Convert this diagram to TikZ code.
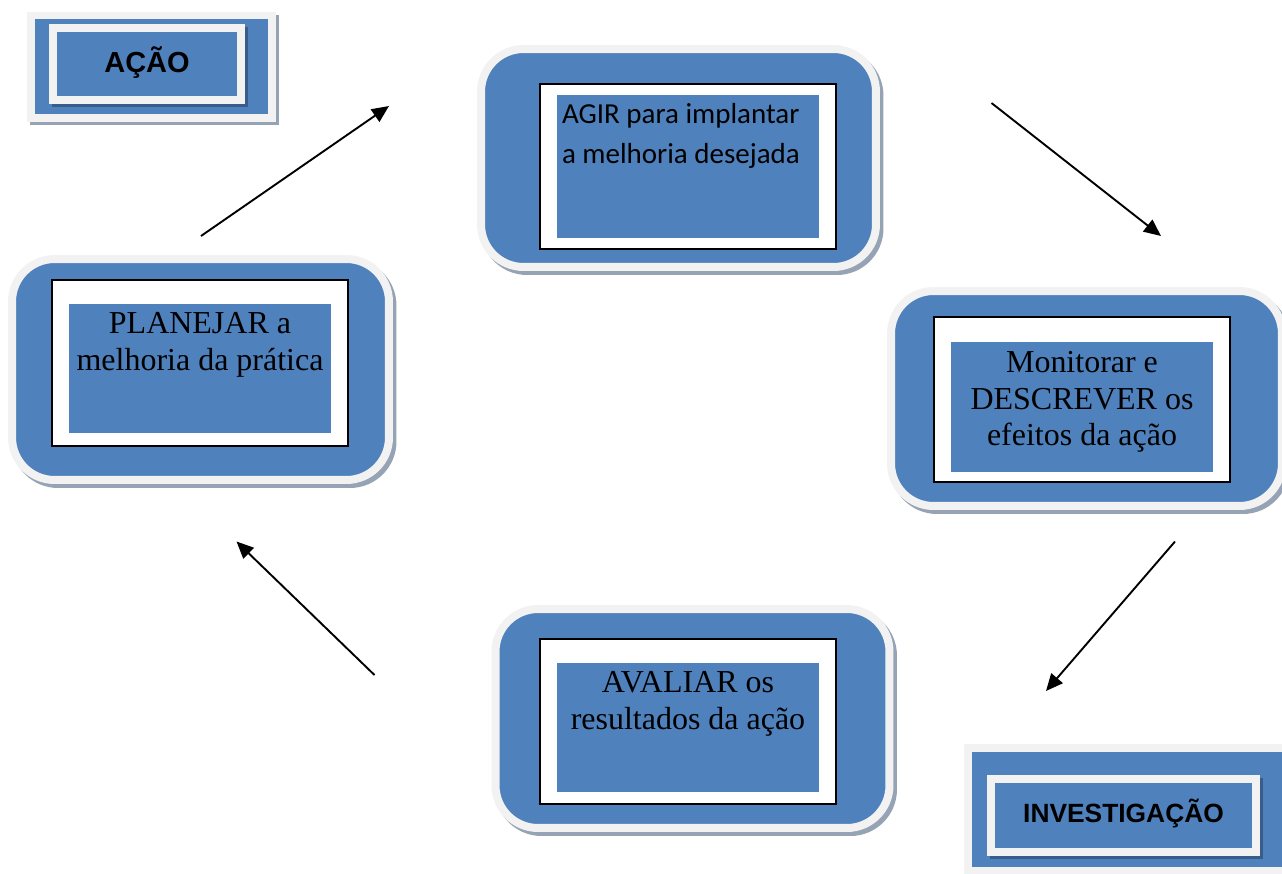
\documentclass[tikz,border=0pt]{standalone}
\usepackage{fontspec}
\setmainfont{Liberation Serif}
\newfontfamily\calibriFont{Carlito}
\newfontfamily\arialFont{Liberation Sans}
\definecolor{boxBlue}{HTML}{4F81BD}
\definecolor{frameGray}{HTML}{F2F2F2}
\definecolor{shadowGray}{HTML}{95A3B4}
\definecolor{shadowBlue}{HTML}{385D8A}
\usepackage{tikz}
\usetikzlibrary{calc, positioning, arrows.meta, shadows}
\begin{document}
\begin{tikzpicture}[x=0.02cm, y=-0.02cm,
    stageBox/.style={fill=boxBlue, draw=frameGray, line width=0.16cm, rounded corners=0.85cm, inner sep=0pt,
      drop shadow={shadow xshift=0.07cm, shadow yshift=-0.08cm, fill=shadowGray, draw=shadowGray, line width=0.16cm, opacity=1}},
    stageFrame/.style={fill=white, draw=black, line width=0.03cm, inner sep=0pt, minimum width=5.92cm, minimum height=3.3cm},
    stageFill/.style={fill=boxBlue, inner sep=0pt, minimum width=5.24cm},
    serifText/.style={inner sep=0pt, align=center, font=\fontsize{18.2}{21}\selectfont},
    tagBox/.style={fill=boxBlue, draw=frameGray, line width=0.15cm, inner sep=0pt,
      drop shadow={shadow xshift=0.06cm, shadow yshift=-0.06cm, fill=shadowGray, draw=shadowGray, line width=0.15cm, opacity=1}},
    tagInner/.style={fill=boxBlue, draw=frameGray, line width=0.16cm, inner sep=0pt,
      font=\arialFont\bfseries\fontsize{15}{18}\selectfont,
      drop shadow={shadow xshift=0.06cm, shadow yshift=-0.06cm, fill=shadowBlue, draw=shadowBlue, line width=0.16cm, opacity=1}},
    cycleArrow/.style={line width=0.038cm, -{Triangle[length=0.34cm, width=0.3cm]}}]
  \useasboundingbox (0,0) rectangle (1282,873);

  \node[tagBox, minimum width=4.82cm, minimum height=2.06cm] (acaoBox) at (151.5,66.75) {};
  \node[tagInner, minimum width=3.76cm, minimum height=1.44cm, font=\arialFont\bfseries\fontsize{16.5}{19}\selectfont] (acao) at (147,64) {\raisebox{0.16cm}{AÇÃO}};

  \node[stageBox, minimum width=7.9cm, minimum height=4.36cm] (agirBox) at (678.5,158) {};
  \node[stageFrame] (agirFrame) at (688,166.5) {};
  \node[stageFill, minimum height=2.86cm] (agirFill) at (688,166.5) {};
  \node[inner sep=0pt, align=left, font=\calibriFont\fontsize{16.5}{22.7}\selectfont,
        below right=0.16cm and 0.1cm of agirFill.north west] (agir) {AGIR para implantar\\a melhoria desejada};

  \node[stageBox, minimum width=7.54cm, minimum height=4.42cm] (planejarBox) at (200.5,369.5) {};
  \node[stageFrame, minimum height=3.32cm] (planejarFrame) at (200,363) {};
  \node[stageFill, minimum height=2.58cm] (planejarFill) at (200,368.5) {};
  \node[serifText, below=0.16cm of planejarFill.north] (planejar) {PLANEJAR a\\melhoria da prática};

  \node[stageBox, minimum width=7.82cm, minimum height=4.3cm] (monitorarBox) at (1086.5,398.5) {};
  \node[stageFrame] (monitorarFrame) at (1082,399.5) {};
  \node[stageFill, minimum height=2.6cm] (monitorarFill) at (1082,407) {};
  \node[serifText, below=0.18cm of monitorarFill.north] (monitorar) {Monitorar e\\DESCREVER os\\efeitos da ação};

  \node[stageBox, minimum width=7.88cm, minimum height=4.38cm] (avaliarBox) at (692.5,718.5) {};
  \node[stageFrame] (avaliarFrame) at (688,721.5) {};
  \node[stageFill, minimum height=2.58cm] (avaliarFill) at (688,727.5) {};
  \node[serifText, below=0.16cm of avaliarFill.north] (avaliar) {AVALIAR os\\resultados da ação};

  \node[tagBox, minimum width=6.44cm, minimum height=2.46cm] (investigacaoBox) at (1129,809.5) {};
  \node[tagInner, minimum width=5.3cm, minimum height=1.46cm] (investigacao) at (1123.5,815.5) {\raisebox{0.2cm}{INVESTIGAÇÃO}};

  \coordinate (planejarOut) at (201,236);
  \coordinate (agirIn) at (389,106);
  \coordinate (agirOut) at (991.5,103);
  \coordinate (monitorarIn) at (1161,236);
  \coordinate (monitorarOut) at (1175,541.5);
  \coordinate (avaliarIn) at (1046,691);
  \coordinate (avaliarOut) at (374.5,675);
  \coordinate (planejarIn) at (236.5,541.5);

  \draw[cycleArrow] (planejarOut) -- (agirIn);
  \draw[cycleArrow] (agirOut) -- (monitorarIn);
  \draw[cycleArrow] (monitorarOut) -- (avaliarIn);
  \draw[cycleArrow] (avaliarOut) -- (planejarIn);
\end{tikzpicture}
\end{document}
